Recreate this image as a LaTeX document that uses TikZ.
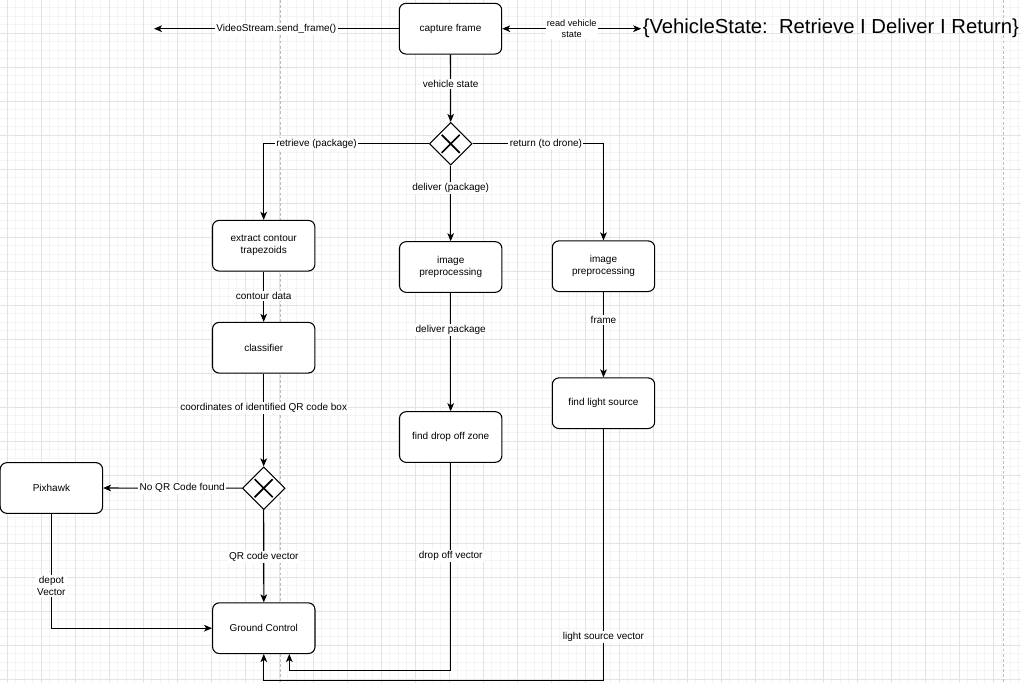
\documentclass[tikz,border=0pt]{standalone}
\usepackage{fontspec}
\setmainfont{Liberation Sans}
\usetikzlibrary{shapes.geometric,arrows.meta,calc}
\definecolor{gridmajor}{HTML}{E3E3E3}
\definecolor{gridminor}{HTML}{F4F4F4}
\definecolor{dashgray}{HTML}{BDBDBD}
\tikzset{
  procbox/.style={draw, fill=white, rounded corners=5pt, line width=0.8pt,
    minimum width=76.8pt, minimum height=38pt, align=center,
    font=\fontsize{7.5pt}{9pt}\selectfont, inner sep=1pt},
  gate/.style={draw, fill=white, diamond, aspect=1, line width=0.8pt,
    minimum width=32pt, minimum height=32pt, inner sep=0pt},
  xmark/.style={line width=1.25pt},
  arr/.style={line width=0.8pt, -{Stealth[length=6pt,width=5pt,inset=1.6pt]}},
  arrboth/.style={line width=0.8pt, {Stealth[length=6pt,width=5pt,inset=1.6pt]}-{Stealth[length=6pt,width=5pt,inset=1.6pt]}},
  lbl/.style={fill=white, inner sep=1pt, align=center,
    font=\fontsize{7.5pt}{9pt}\selectfont},
  smalllbl/.style={fill=white, inner sep=1pt, align=center,
    font=\fontsize{6.9pt}{8.25pt}\selectfont},
  minorline/.style={draw=gridminor, line width=0.6pt},
  majorline/.style={draw=gridmajor, line width=0.6pt},
  lane/.style={draw=dashgray, line width=0.6pt, dash pattern=on 2.2pt off 1.6pt}
}
\begin{document}
\begin{tikzpicture}[x=0.75pt,y=-0.75pt]
\useasboundingbox (0,0) rectangle (1021,683);
\fill[white] (0,0) rectangle (1021,683);
% grid
\foreach \i in {-1,...,119} \draw[minorline] ({7.3+8.5*\i},0) -- ({7.3+8.5*\i},683);
\foreach \i in {0,...,81} \draw[minorline] (0,{-1+8.5*\i}) -- (1021,{-1+8.5*\i});
\foreach \i in {0,...,30} \draw[majorline] ({7.3+34*\i},0) -- ({7.3+34*\i},683);
\foreach \i in {0,...,20} \draw[majorline] (0,{-1+34*\i}) -- (1021,{-1+34*\i});
% lanes
\draw[lane] (280,0) -- (280,683);
\draw[lane] (1003.3,0) -- (1003.3,683);

% nodes
\node[procbox] (cap) at (450.5,28.7) {capture frame};
\node[anchor=base west, inner sep=0pt, font=\fontsize{15.2pt}{18pt}\selectfont] (vs) at (642.5,33.3) {\{VehicleState:\ \ Retrieve I Deliver I Return\}};
\node[gate] (d1) at (450.7,143.8) {};
\node[procbox] (ext) at (263.7,245.7) {extract contour\\trapezoids};
\node[procbox] (cls) at (263.7,347.7) {classifier};
\node[procbox] (mip) at (450.7,267) {image\\preprocessing};
\node[procbox] (fdz) at (450.7,437) {find drop off zone};
\node[procbox] (rip) at (603.5,266.2) {image\\preprocessing};
\node[procbox] (fls) at (603.5,403.2) {find light source};
\node[gate] (d2) at (263.7,488.2) {};
\node[procbox] (pix) at (51.4,488) {Pixhawk};
\node[procbox] (gc) at (263.8,628.2) {Ground Control};
\coordinate (vsend) at (154,28.7);

% X marks
\draw[xmark] ([shift={(-9,-9)}]d1.center) -- ([shift={(9,9)}]d1.center);
\draw[xmark] ([shift={(-9,9)}]d1.center) -- ([shift={(9,-9)}]d1.center);
\draw[xmark] ([shift={(-9,-9)}]d2.center) -- ([shift={(9,9)}]d2.center);
\draw[xmark] ([shift={(-9,9)}]d2.center) -- ([shift={(9,-9)}]d2.center);

% connectors
\draw[arr] (cap.west) -- node[lbl]{VideoStream.send\_frame()} (vsend);
\draw[arrboth] (cap.east) -- node[smalllbl]{read vehicle\\state} ([xshift=-1pt]vs.west |- cap.east);
\draw[arr] (cap.south) -- node[lbl,pos=0.44]{vehicle state} (d1.north);
\draw[arr] (d1.west) -| node[lbl,pos=0.34]{retrieve (package)} (ext.north);
\draw[arr] (d1.east) -| node[lbl,pos=0.28]{return (to drone)} (rip.north);
\draw[arr] (d1.south) -- node[lbl,pos=0.3]{deliver (package)} (mip.north);
\draw[arr] (ext.south) -- node[lbl,pos=0.49]{contour data} (cls.north);
\draw[arr] (cls.south) -- node[lbl,pos=0.37]{coordinates of identified QR code box} (d2.north);
\draw[arr] (d2.west) -- node[lbl,pos=0.43]{No QR Code found} (pix.east);
\draw[arr] (d2.south) -- node[lbl,pos=0.51]{QR code vector} (gc.north);
\draw[arr] (pix.south) |- node[lbl,pos=0.316]{depot\\Vector} (gc.west);
\draw[arr] (mip.south) -- node[lbl,pos=0.31]{deliver package} (fdz.north);
\draw[arr] (rip.south) -- node[lbl,pos=0.33]{frame} (fls.north);
\draw[arr] (fdz.south) |- node[lbl,pos=0.224]{drop off vector} ($(gc.south)+(25.5,16.3)$) -- ($(gc.south)+(25.5,0)$);
\draw[arr] (fls.south) |- node[lbl,pos=0.414]{light source vector} ($(gc.south)+(0,26.3)$) -- (gc.south);
\end{tikzpicture}
\end{document}
